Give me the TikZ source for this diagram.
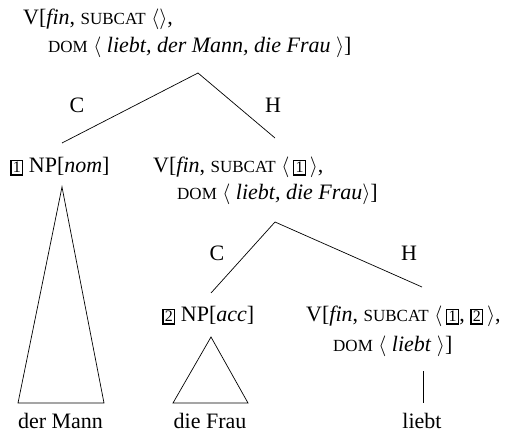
\documentclass[tikz,border=0pt]{standalone}
\usepackage{fontspec}
\setmainfont{Liberation Serif}
\newcommand\smc[1]{{\fontsize{17}{20}\selectfont #1}}
\newcommand\tagbx[1]{{\setlength\fboxsep{1.3pt}\setlength\fboxrule{1.3pt}\fbox{\fontsize{16}{16}\selectfont #1}}}
\begin{document}
\begin{tikzpicture}[x=1pt,y=-1pt,
  lbl/.style={inner sep=0, anchor=base west, font=\fontsize{22}{28}\selectfont},
  cat/.style={inner sep=0, anchor=base, font=\fontsize{22}{28}\selectfont},
  branch/.style={line width=0.7pt}]
\useasboundingbox (0,0) rectangle (527,435);
% root
\node[lbl] (r1) at (23,25) {V[\textit{fin}, \smc{SUBCAT} $\langle\rangle$,};
\node[lbl] (r2) at (48,53) {\smc{DOM} $\langle$ \textit{liebt, der Mann, die Frau} $\rangle$]};
\coordinate (a1) at (198,73);
\coordinate (a1l) at (62,143);
\coordinate (a1r) at (275,138);
\draw[branch] (a1l) -- (a1) -- (a1r);
\node[cat] (c1) at (77,113) {C};
\node[cat] (h1) at (273,113) {H};
% level 2
\node[lbl] (np1) at (10,173) {\tagbx{1} NP[\textit{nom}]};
\node[lbl] (v2a) at (153,173) {V[\textit{fin}, \smc{SUBCAT} $\big\langle$\,\tagbx{1}\,$\big\rangle$,};
\node[lbl] (v2b) at (177,200) {\smc{DOM} $\langle$ \textit{liebt, die Frau}$\rangle$]};
\coordinate (a2) at (275,222);
\coordinate (a2l) at (211,293);
\coordinate (a2r) at (422,287);
\draw[branch] (a2l) -- (a2) -- (a2r);
\node[cat] (c2) at (217,261) {C};
\node[cat] (h2) at (409,261) {H};
% level 3
\node[lbl] (np2) at (162,322) {\tagbx{2} NP[\textit{acc}]};
\node[lbl] (v3a) at (306,322) {V[\textit{fin}, \smc{SUBCAT} $\big\langle$\,\tagbx{1}, \tagbx{2}\,$\big\rangle$,};
\node[lbl] (v3b) at (333,351) {\smc{DOM} $\langle$ \textit{liebt} $\rangle$]};
% leaves
\node[cat] (w1) at (60.5,428) {der Mann};
\node[cat] (w2) at (210,428) {die Frau};
\node[cat] (w3) at (422,428) {liebt};
% triangles and line
\draw[branch] (62,187) -- (18,403) -- (104,403) -- cycle;
\draw[branch] (211,337) -- (173,403) -- (248,403) -- cycle;
\coordinate (l1) at (423,371);
\coordinate (l2) at (423,403);
\draw[branch] (l1) -- (l2);
\end{tikzpicture}
\end{document}
